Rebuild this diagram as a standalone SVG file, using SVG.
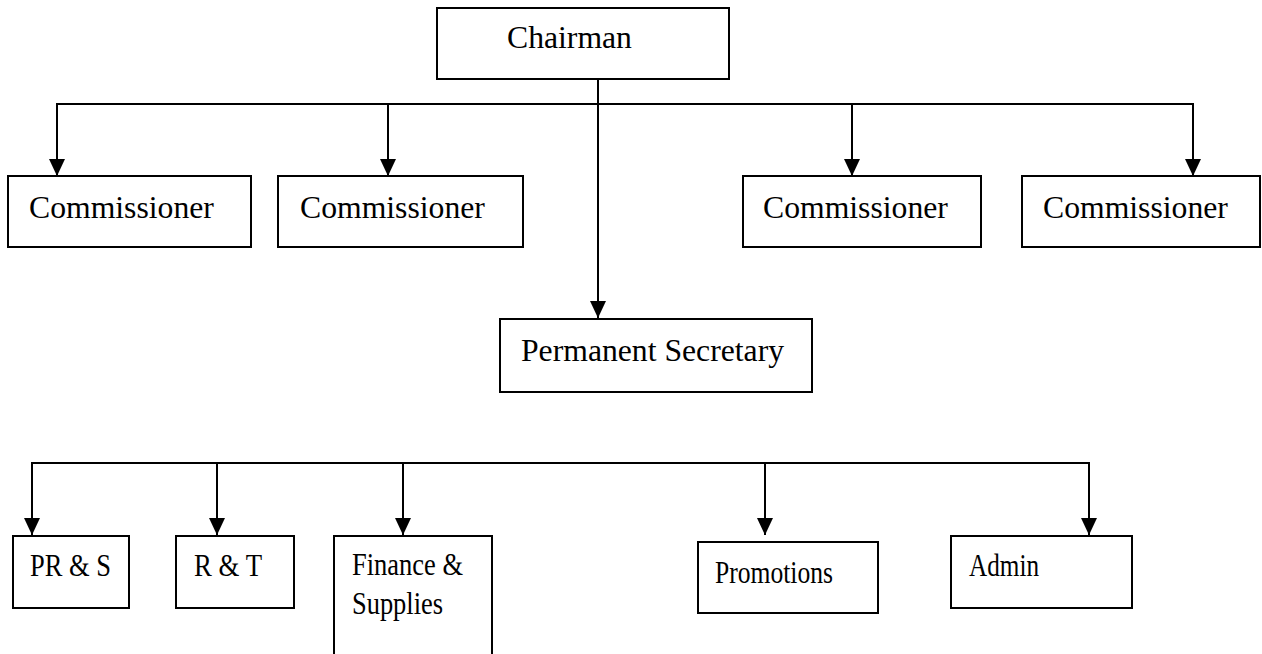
<svg xmlns="http://www.w3.org/2000/svg" width="1262" height="654" viewBox="0 0 1262 654">
<style>
.box{fill:#fff;stroke:#000;stroke-width:2}
.ln{fill:none;stroke:#000;stroke-width:2}
.t{font-family:"Liberation Serif","Times New Roman",serif;font-size:31.7px;fill:#000}
.b{font-size:31px}
</style>
<defs>
<marker id="arr" markerWidth="16" markerHeight="17" refX="8" refY="17" orient="0" markerUnits="userSpaceOnUse" viewBox="0 0 16 17">
<path d="M0,0 L16,0 L8,17 Z" fill="#000"/>
</marker>
</defs>
<rect width="1262" height="654" fill="#fff"/>
<g id="connectors">
<line class="ln" x1="598" y1="79" x2="598" y2="318" marker-end="url(#arr)"/>
<line class="ln" x1="57" y1="104" x2="1193" y2="104"/>
<line class="ln" x1="57" y1="103" x2="57" y2="176" marker-end="url(#arr)"/>
<line class="ln" x1="388" y1="104" x2="388" y2="176" marker-end="url(#arr)"/>
<line class="ln" x1="852" y1="104" x2="852" y2="176" marker-end="url(#arr)"/>
<line class="ln" x1="1193" y1="103" x2="1193" y2="176" marker-end="url(#arr)"/>
<line class="ln" x1="32" y1="463" x2="1089" y2="463"/>
<line class="ln" x1="32" y1="462" x2="32" y2="535" marker-end="url(#arr)"/>
<line class="ln" x1="217" y1="463" x2="217" y2="535" marker-end="url(#arr)"/>
<line class="ln" x1="403" y1="463" x2="403" y2="535" marker-end="url(#arr)"/>
<line class="ln" x1="765" y1="463" x2="765" y2="535" marker-end="url(#arr)"/>
<line class="ln" x1="1089" y1="462" x2="1089" y2="535" marker-end="url(#arr)"/>
</g>
<g id="chairman"><rect class="box" x="437" y="8" width="292" height="71"/><text class="t" x="507" y="48">Chairman</text></g>
<g id="comm1"><rect class="box" x="8" y="176" width="243" height="71"/><text class="t" x="29" y="218">Commissioner</text></g>
<g id="comm2"><rect class="box" x="278" y="176" width="245" height="71"/><text class="t" x="300" y="218">Commissioner</text></g>
<g id="comm3"><rect class="box" x="743" y="176" width="238" height="71"/><text class="t" x="763" y="218">Commissioner</text></g>
<g id="comm4"><rect class="box" x="1022" y="176" width="238" height="71"/><text class="t" x="1043" y="218">Commissioner</text></g>
<g id="permsec"><rect class="box" x="500" y="319" width="312" height="73"/><text class="t" x="521" y="361">Permanent Secretary</text></g>
<g id="prs"><rect class="box" x="13" y="536" width="116" height="72"/><text class="t b" x="30" y="576" textLength="81" lengthAdjust="spacingAndGlyphs">PR &amp; S</text></g>
<g id="rt"><rect class="box" x="176" y="536" width="118" height="72"/><text class="t b" x="194" y="576" textLength="68" lengthAdjust="spacingAndGlyphs">R &amp; T</text></g>
<g id="finance"><rect class="box" x="334" y="536" width="158" height="130"/><text class="t b" x="352" y="575" textLength="111" lengthAdjust="spacingAndGlyphs">Finance &amp;</text><text class="t b" x="352" y="614" textLength="91" lengthAdjust="spacingAndGlyphs">Supplies</text></g>
<g id="promotions"><rect class="box" x="698" y="542" width="180" height="71"/><text class="t b" x="715" y="583" textLength="118" lengthAdjust="spacingAndGlyphs">Promotions</text></g>
<g id="admin"><rect class="box" x="951" y="536" width="181" height="72"/><text class="t b" x="969" y="576" textLength="70" lengthAdjust="spacingAndGlyphs">Admin</text></g>
</svg>
